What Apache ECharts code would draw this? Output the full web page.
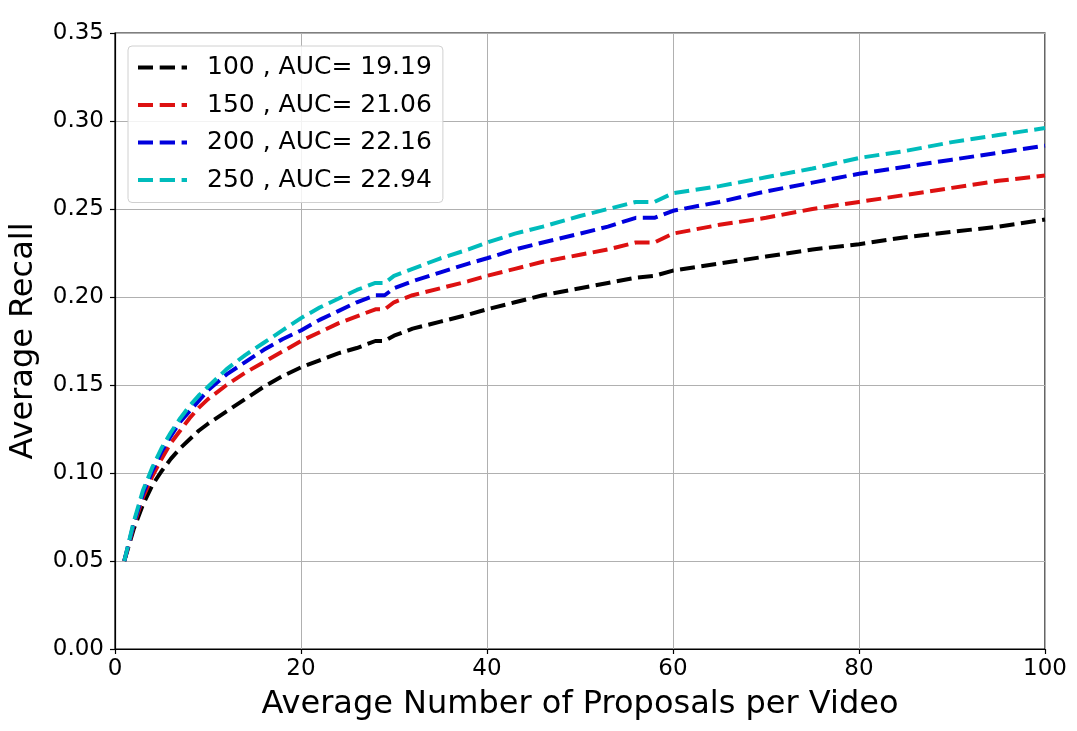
<!DOCTYPE html>
<html>
<head>
<meta charset="utf-8">
<script src="https://cdn.jsdelivr.net/npm/echarts@6/dist/echarts.min.js"></script>
<style>
html,body{margin:0;padding:0;background:#fff;}
#chart{width:1077px;height:731px;}
</style>
</head>
<body>
<div id="chart"></div>
<script>
const proposals = [1,2,3,4,5,6,7,8,9,10,12,14,16,18,20,22,24,26,28,29,30,32,35,38,40,43,46,50,53,56,58,60,65,70,75,80,85,90,95,100];
const recall100 = [0.050,0.068,0.082,0.093,0.101,0.108,0.114,0.119,0.124,0.128,0.135,0.142,0.149,0.155,0.160,0.164,0.168,0.171,0.175,0.175,0.178,0.182,0.186,0.190,0.193,0.197,0.201,0.205,0.208,0.211,0.212,0.215,0.219,0.223,0.227,0.230,0.234,0.237,0.240,0.244];
const recall150 = [0.050,0.070,0.086,0.098,0.108,0.117,0.124,0.131,0.137,0.142,0.150,0.157,0.163,0.169,0.175,0.180,0.185,0.189,0.193,0.193,0.197,0.201,0.205,0.209,0.212,0.216,0.220,0.224,0.227,0.231,0.231,0.236,0.241,0.245,0.250,0.254,0.258,0.262,0.266,0.269];
const recall200 = [0.050,0.071,0.088,0.101,0.112,0.121,0.129,0.135,0.141,0.147,0.156,0.163,0.170,0.176,0.181,0.187,0.192,0.197,0.201,0.201,0.205,0.209,0.214,0.219,0.222,0.227,0.231,0.236,0.240,0.245,0.245,0.249,0.254,0.260,0.265,0.270,0.274,0.278,0.282,0.286];
const recall250 = [0.050,0.072,0.090,0.103,0.114,0.123,0.131,0.138,0.144,0.149,0.159,0.167,0.174,0.181,0.188,0.194,0.199,0.204,0.208,0.208,0.212,0.216,0.222,0.227,0.231,0.236,0.240,0.246,0.250,0.254,0.254,0.259,0.263,0.268,0.273,0.279,0.283,0.288,0.292,0.296];
const seriesNames = ['100 , AUC= 19.19','150 , AUC= 21.06','200 , AUC= 22.16','250 , AUC= 22.94'];
const seriesColors = ['#000000','#dd1111','#0000dd','#00bcbc'];
const xTickInterval = 20;
const yTickInterval = 0.05;

const allRecall = [recall100, recall150, recall200, recall250];
const FONT = 'DejaVu Sans';
const dashIcon = 'path://M0,0h15v4h-15z M21.7,0h15.3v4h-15.3z M43.6,0h5.4v4h-5.4z';
const chart = echarts.init(document.getElementById('chart'), null, {renderer:'canvas'});
chart.setOption({
  animation:false,
  backgroundColor:'#ffffff',
  textStyle:{fontFamily:FONT, color:'#000'},
  grid:{left:115, right:32, top:33, bottom:82, show:true, borderColor:'#000', borderWidth:1.2, backgroundColor:'transparent'},
  legend:{
    orient:'vertical', left:128, top:46,
    padding:[9,11,10,10],
    icon:dashIcon,
    itemWidth:49, itemHeight:4, itemGap:12.5,
    backgroundColor:'rgba(255,255,255,0.85)', borderColor:'#d0d0d0', borderWidth:1, borderRadius:4,
    textStyle:{fontFamily:FONT, fontSize:25, color:'#000', lineHeight:24, padding:[0,0,0,15]},
    data:seriesNames
  },
  xAxis:{
    type:'value', min:0, max:100, interval:xTickInterval,
    name:'Average Number of Proposals per Video', nameLocation:'middle', nameGap:40,
    nameTextStyle:{fontFamily:FONT, fontSize:32, color:'#000'},
    axisLine:{show:true, onZero:false, lineStyle:{color:'#000', width:1.2}},
    axisTick:{show:true, length:5, lineStyle:{color:'#000', width:1.2}},
    axisLabel:{fontFamily:FONT, fontSize:23, color:'#000', margin:9},
    splitLine:{show:true, lineStyle:{color:'#b0b0b0', width:1}}
  },
  yAxis:{
    type:'value', min:0, max:0.35, interval:yTickInterval,
    name:'Average Recall', nameLocation:'middle', nameGap:75,
    nameTextStyle:{fontFamily:FONT, fontSize:32, color:'#000'},
    axisLine:{show:true, lineStyle:{color:'#000', width:1.2}},
    axisTick:{show:true, length:5, lineStyle:{color:'#000', width:1.2}},
    axisLabel:{fontFamily:FONT, fontSize:23, color:'#000', margin:11, formatter:v=>v.toFixed(2)},
    splitLine:{show:true, lineStyle:{color:'#b0b0b0', width:1}}
  },
  series: allRecall.map((arr,i)=>({
    name:seriesNames[i], type:'line', symbol:'none', smooth:false,
    data: proposals.map((x,j)=>[x, arr[j]]),
    lineStyle:{color:seriesColors[i], width:4, type:[15,6.5]},
    itemStyle:{color:seriesColors[i]},
    z: 2+i
  }))
});
</script>
</body>
</html>
